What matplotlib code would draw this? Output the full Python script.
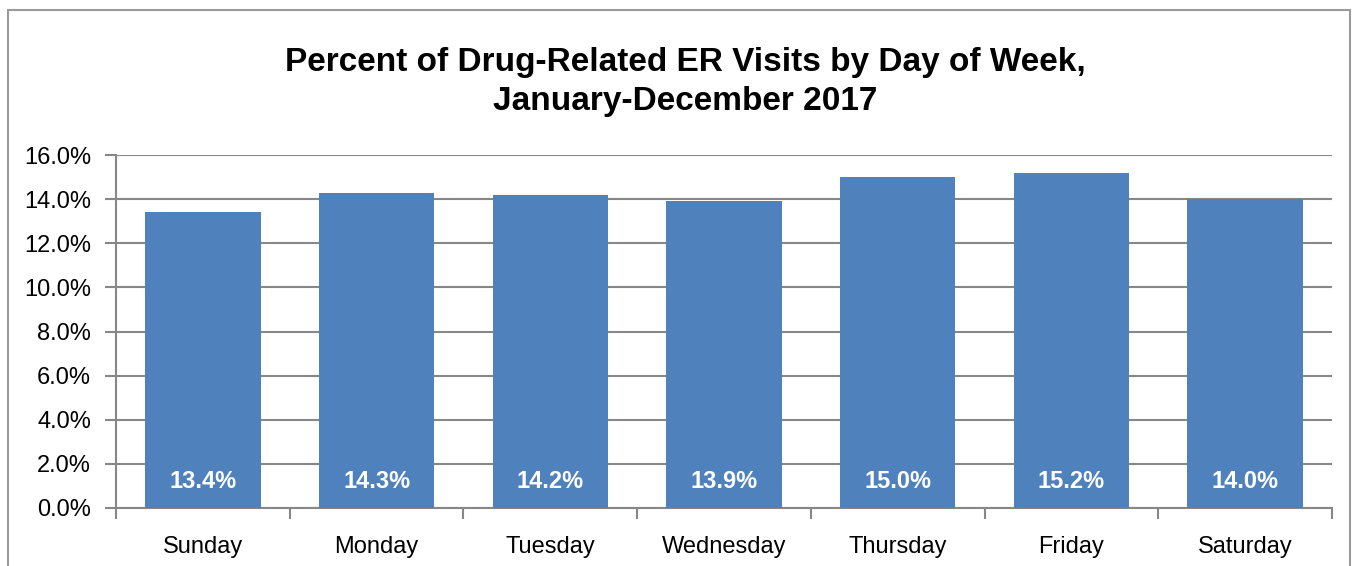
import matplotlib
matplotlib.use('Agg')
import matplotlib.pyplot as plt
from matplotlib.patches import Rectangle
import numpy as np

plt.rcParams['font.family'] = ['Liberation Sans', 'DejaVu Sans']

days = ['Sunday', 'Monday', 'Tuesday', 'Wednesday', 'Thursday', 'Friday', 'Saturday']
pct = [13.4, 14.3, 14.2, 13.9, 15.0, 15.2, 14.0]
yticks = [0, 2, 4, 6, 8, 10, 12, 14, 16]

BAR = '#4F81BD'
GRID = '#878787'

fig = plt.figure(figsize=(13.59, 5.66), dpi=100)
ax = fig.add_axes([0.0854, 0.1025, 0.8947, 0.6235])

# chart border
fig.patches.append(Rectangle((8/1359, -0.05), 1342/1359, 1.05 - 10/566,
                             transform=fig.transFigure, fill=False,
                             edgecolor='#9a9a9a', lw=1.5))

x = np.arange(len(days))
ax.bar(x, pct, width=0.665, color=BAR, zorder=3)
for xi, v in zip(x, pct):
    ax.text(xi, 1.2, f'{v:.1f}%', ha='center', va='center', color='white',
            fontsize=17, fontweight='bold', zorder=4)

ax.set_xlim(-0.5, len(days) - 0.5)
ax.set_ylim(0, 16)
ax.set_yticks(yticks)
ax.set_yticklabels([f'{t:.1f}%' for t in yticks], fontsize=17)
ax.yaxis.grid(True, color=GRID, lw=1.5, zorder=0)
ax.set_axisbelow(True)

ax.set_xticks(x)
ax.set_xticklabels(days, fontsize=17)
ax.set_xticks(np.arange(-0.5, len(days)), minor=True)
ax.tick_params(axis='x', which='major', length=0, pad=20)
ax.tick_params(axis='x', which='minor', length=8, width=1.5, color=GRID)
ax.tick_params(axis='y', length=8, width=1.5, color=GRID, pad=10)

for s in ['top', 'right']:
    ax.spines[s].set_visible(False)
for s in ['left', 'bottom']:
    ax.spines[s].set_color(GRID)
    ax.spines[s].set_linewidth(1.5)

fig.text(0.504, 0.855, 'Percent of Drug-Related ER Visits by Day of Week,\nJanuary-December 2017',
         ha='center', va='center', fontsize=24, fontweight='bold', linespacing=1.3)

fig.savefig('out.png', dpi=100)
